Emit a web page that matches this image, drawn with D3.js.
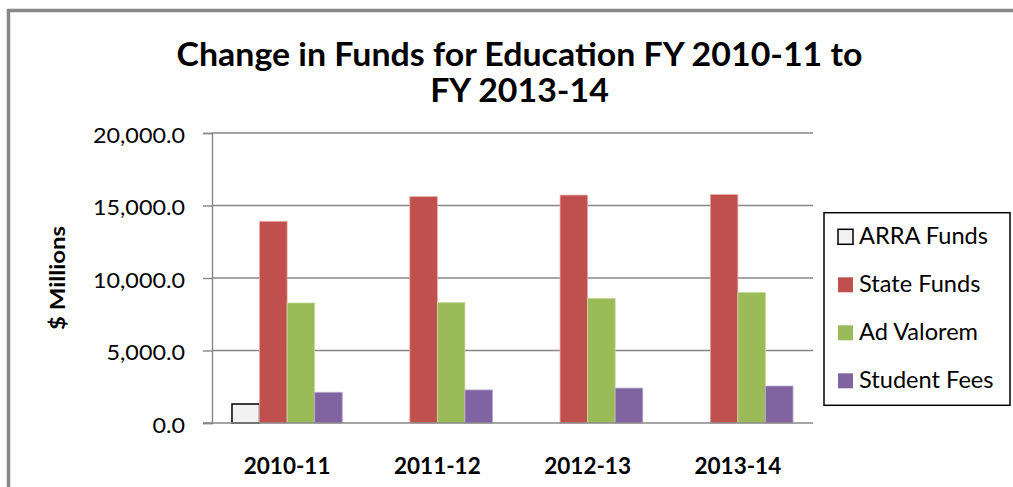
<!doctype html>
<html lang="en">
  <head>
    <meta charset="UTF-8" />
    <title>Change in Funds for Education</title>
    <style>
      body {
        margin: 0;
        background: #fff;
      }
      svg {
        display: block;
        font-family: Lato, "Open Sans", sans-serif;
      }
    </style>
  </head>
  <body>
    <svg id="chart" width="1013" height="487"></svg>

    <script src="https://d3js.org/d3.v7.min.js"></script>
    <script>
      // data ($ millions)
      const years = ["2010-11", "2011-12", "2012-13", "2013-14"];
      const seriesNames = ["ARRA Funds", "State Funds", "Ad Valorem", "Student Fees"];
      const arraFunds = [1310, null, null, null];
      const stateFunds = [13910, 15610, 15720, 15750];
      const adValorem = [8280, 8320, 8600, 9010];
      const studentFees = [2120, 2280, 2410, 2550];
      const yTicks = [0, 5000, 10000, 15000, 20000];
      const titleLines = ["Change in Funds for Education FY 2010-11 to", "FY 2013-14"];

      const values = [arraFunds, stateFunds, adValorem, studentFees];
      const fills = ["#f2f2f2", "#c0504d", "#9bbb59", "#8064a2"];
      const edges = ["#000", "#e8a9a8", "#c9dca6", "#b9a9cf"];

      const svg = d3.select("#chart");
      const grey = "#878787";

      // squeeze a text group so it reads like the narrow original font;
      // refNode is the label whose width we measured on the picture
      function condense(sel, refWidth, refNode) {
        const ref = refNode || sel.node();
        const ratio = refWidth / ref.getComputedTextLength();
        sel.each(function () {
          const w = this.getComputedTextLength();
          d3.select(this)
            .attr("textLength", w * ratio)
            .attr("lengthAdjust", "spacingAndGlyphs");
        });
      }

      // outer frame (only top and left visible)
      svg
        .append("path")
        .attr("d", "M8.5,490V10.5H1020")
        .attr("fill", "none")
        .attr("stroke", grey)
        .attr("stroke-width", 3.5);

      const x0 = d3
        .scaleBand()
        .domain(years)
        .range([212, 813])
        .paddingInner(0.266)
        .paddingOuter(0.133);
      const x1 = d3
        .scaleBand()
        .domain(seriesNames)
        .range([0, x0.bandwidth()]);
      const y = d3.scaleLinear().domain([0, 20000]).range([423, 133]);

      // gridlines
      svg
        .append("g")
        .selectAll("line")
        .data(yTicks.filter((d) => d > 0))
        .join("line")
        .attr("x1", 212)
        .attr("x2", 813)
        .attr("y1", (d) => y(d))
        .attr("y2", (d) => y(d))
        .attr("stroke", grey)
        .attr("stroke-width", 1.4);

      // bars
      const rows = seriesNames.flatMap((s, i) =>
        years.map((yr, j) => ({ s, i, yr, v: values[i][j] })),
      );
      svg
        .append("g")
        .selectAll("rect")
        .data(rows.filter((d) => d.v != null))
        .join("rect")
        .attr("x", (d) => x0(d.yr) + x1(d.s))
        .attr("width", x1.bandwidth())
        .attr("y", (d) => y(d.v))
        .attr("height", (d) => y(0) - y(d.v))
        .attr("fill", (d) => fills[d.i])
        .attr("stroke", (d) => edges[d.i])
        .attr("stroke-width", (d) => (d.i === 0 ? 1.5 : 0.8));

      // y axis
      const yAxis = svg
        .append("g")
        .attr("transform", "translate(212,0)")
        .call(
          d3
            .axisLeft(y)
            .tickValues(yTicks)
            .tickSize(9)
            .tickPadding(18)
            .tickFormat(d3.format(",.1f")),
        );
      yAxis.select(".domain").attr("stroke", grey).attr("stroke-width", 1.4);
      yAxis.selectAll(".tick line").attr("stroke", grey).attr("stroke-width", 1.4);
      const yLabels = yAxis
        .selectAll(".tick text")
        .attr("fill", "#000")
        .attr("font-family", "Lato, sans-serif")
        .attr("font-size", 21.5)
        .attr("dy", "0.42em");
      condense(yLabels, 92, yAxis.select(".tick:last-of-type text").node());

      // x axis line
      svg
        .append("line")
        .attr("x1", 203)
        .attr("x2", 813)
        .attr("y1", y(0))
        .attr("y2", y(0))
        .attr("stroke", grey)
        .attr("stroke-width", 1.6);

      const xLabels = svg
        .append("g")
        .selectAll("text")
        .data(years)
        .join("text")
        .attr("x", (d) => x0(d) + x0.bandwidth() / 2)
        .attr("y", 473.5)
        .attr("text-anchor", "middle")
        .attr("font-size", 22)
        .attr("font-weight", "bold")
        .text((d) => d);
      condense(xLabels, 86.7);

      // y axis title
      const yTitle = svg
        .append("text")
        .attr("transform", "translate(64.5,278) rotate(-90)")
        .attr("text-anchor", "middle")
        .attr("font-size", 21.5)
        .attr("font-weight", "bold")
        .text("$ Millions");
      condense(yTitle, 104);

      // title
      const title = svg
        .append("g")
        .selectAll("text")
        .data(titleLines)
        .join("text")
        .attr("x", 519.5)
        .attr("y", (d, i) => (i === 0 ? 65.5 : 102))
        .attr("text-anchor", "middle")
        .attr("font-size", 31.5)
        .attr("font-weight", "bold")
        .text((d) => d);
      condense(title, 686);

      // legend
      const legend = svg.append("g");
      legend
        .append("rect")
        .attr("x", 824)
        .attr("y", 212.7)
        .attr("width", 186)
        .attr("height", 192.6)
        .attr("fill", "#fff")
        .attr("stroke", "#000")
        .attr("stroke-width", 1.5);
      const item = legend
        .selectAll("g")
        .data(seriesNames)
        .join("g")
        .attr("transform", (d, i) => `translate(838,${244.3 + i * 48})`);
      item
        .append("rect")
        .attr("x", 0)
        .attr("y", -15)
        .attr("width", 15)
        .attr("height", 15)
        .attr("fill", (d, i) => fills[i])
        .attr("stroke", (d, i) => (i === 0 ? "#000" : "none"))
        .attr("stroke-width", 1.5);
      const legendText = item
        .append("text")
        .attr("x", 21)
        .attr("y", 0)
        .attr("font-size", 23.5)
        .text((d) => d);
      condense(legendText, 129);
    </script>
  </body>
</html>
